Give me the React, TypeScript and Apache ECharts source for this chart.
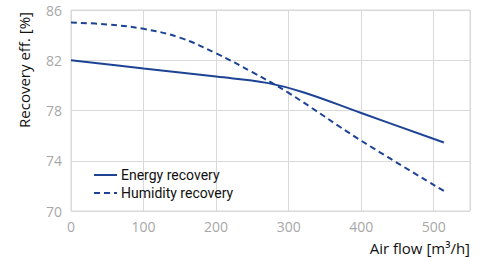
import React, { useEffect, useRef } from "react";
import * as echarts from "echarts";

const energyX = [0, 100, 200, 270, 320, 400, 514];
const energyY = [82, 81.35, 80.7, 80.2, 79.45, 77.8, 75.45];
const humidityX = [0, 50, 100, 150, 200, 250, 300, 400, 514];
const humidityY = [85, 84.85, 84.5, 83.8, 82.55, 81.05, 79.4, 75.6, 71.6];
const seriesNames = ["Energy recovery", "Humidity recovery"];
const xName = "Air flow [m³/h]";
const yName = "Recovery eff. [%]";

export default function App() {
  const ref = useRef<HTMLDivElement>(null);
  useEffect(() => {
    const chart = echarts.init(ref.current!, null, { renderer: "svg" });
    const color = "#1c4394";
    const font = "Open Sans";
    chart.setOption({
      animation: false,
      grid: { left: 71, right: 14, top: 10, bottom: 46, show: true, borderColor: "#d9d9d9", borderWidth: 1 },
      legend: {
        orient: "vertical",
        left: 88,
        top: 163,
        itemWidth: 23,
        itemHeight: 14,
        itemGap: 4,
        itemStyle: { opacity: 0 },
        textStyle: { color: "#111", fontSize: 14, fontFamily: "Roboto", padding: [0, 0, 0, -1] },
        data: seriesNames,
      },
      graphic: [
        {
          type: "text",
          x: 24,
          y: 70,
          rotation: Math.PI / 2,
          style: { text: yName, fill: "#111", font: `15px "${font}"`, align: "center", verticalAlign: "middle" },
        },
        {
          type: "text",
          x: 470,
          y: 248,
          style: { text: xName, fill: "#111", font: `15px "${font}"`, align: "right", verticalAlign: "middle" },
        },
      ],
      xAxis: {
        type: "value",
        min: 0,
        max: 550,
        interval: 100,
        axisLine: { show: false },
        axisTick: { show: false },
        axisLabel: { color: "#a8a8a8", fontSize: 14, fontFamily: font, margin: 8, showMaxLabel: false },
        splitLine: { lineStyle: { color: "#d9d9d9" } },
      },
      yAxis: {
        type: "value",
        min: 70,
        max: 86,
        interval: 4,
        axisLine: { show: false },
        axisTick: { show: false },
        axisLabel: { color: "#a8a8a8", fontSize: 14, fontFamily: font, margin: 9 },
        splitLine: { lineStyle: { color: "#d9d9d9" } },
      },
      series: [
        {
          name: seriesNames[0],
          type: "line",
          smooth: 0.4,
          showSymbol: false,
          symbol: "none",
          lineStyle: { color, width: 2 },
          itemStyle: { color },
          data: energyX.map((x, i) => [x, energyY[i]]),
        },
        {
          name: seriesNames[1],
          type: "line",
          smooth: 0.4,
          showSymbol: false,
          symbol: "none",
          lineStyle: { color, width: 2, type: [6, 4] },
          itemStyle: { color },
          data: humidityX.map((x, i) => [x, humidityY[i]]),
        },
      ],
    });
    return () => chart.dispose();
  }, []);
  return <div ref={ref} style={{ width: 484, height: 257, position: "absolute", left: 0, top: 0 }} />;
}
